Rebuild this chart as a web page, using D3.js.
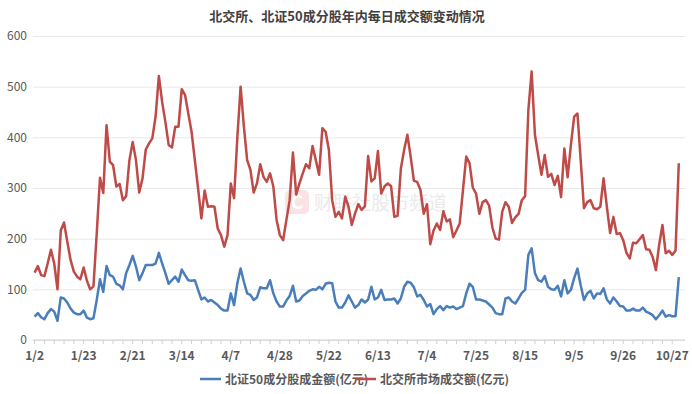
<!DOCTYPE html>
<html>
<head>
	<meta charset="utf-8">
	<script src="https://cdn.jsdelivr.net/npm/d3@7/dist/d3.min.js"></script>
	<style>
		html, body {
			padding: 0;
			margin: 0;
			background: #fff;
		}
		text {
			font-family: "Noto Sans CJK SC", "Noto Sans", sans-serif;
		}
	</style>
</head>
<body>
	<script>
		var width = 692, height = 394;

		// x tick labels, one every 15 trading days
		var tickLabels = ['1/2', '1/23', '2/21', '3/14', '4/7', '4/28', '5/22',
			'6/13', '7/4', '7/25', '8/15', '9/5', '9/26', '10/27'];
		var tickStep = 15;

		// 北证50成分股成金额 (亿元), one value per trading day
		var bz50 = [46, 53, 45, 41, 53, 61, 56, 38, 84, 82, 74, 62, 54, 51, 51, 58, 44, 41, 43, 79,
			120, 95, 146, 128, 125, 111, 108, 100, 132, 148, 166, 145, 118, 132, 148, 148, 148, 151, 172, 151,
			132, 111, 118, 125, 115, 139, 128, 118, 117, 118, 99, 80, 84, 76, 79, 74, 69, 62, 58, 58,
			92, 69, 112, 141, 115, 92, 89, 79, 84, 104, 102, 102, 118, 92, 76, 66, 66, 78, 87, 107,
			76, 78, 87, 92, 97, 100, 99, 105, 100, 111, 113, 112, 76, 64, 64, 74, 88, 76, 64, 69,
			80, 74, 80, 105, 80, 84, 99, 79, 80, 80, 82, 72, 82, 105, 115, 113, 104, 86, 89, 79,
			66, 71, 51, 61, 67, 59, 67, 64, 66, 61, 64, 67, 92, 111, 105, 80, 80, 78, 76, 70,
			64, 53, 51, 51, 82, 84, 76, 72, 82, 93, 99, 168, 181, 132, 118, 115, 126, 105, 100, 99,
			107, 86, 118, 92, 99, 122, 141, 108, 79, 92, 97, 82, 92, 91, 102, 80, 72, 84, 76, 67,
			66, 58, 58, 62, 58, 58, 64, 56, 53, 49, 41, 49, 58, 46, 49, 47, 47, 124];

		// 北交所市场成交额 (亿元)
		var bjse = [133, 146, 128, 126, 151, 178, 151, 100, 216, 232, 194, 158, 135, 125, 120, 143, 117, 100, 106, 210,
			320, 290, 424, 352, 345, 303, 308, 276, 284, 355, 391, 355, 291, 319, 376, 388, 398, 441, 521, 470,
			430, 385, 380, 421, 421, 495, 484, 447, 411, 355, 299, 240, 295, 263, 264, 263, 220, 207, 184, 207,
			309, 280, 400, 500, 421, 355, 336, 291, 309, 347, 322, 312, 329, 303, 237, 207, 197, 237, 276, 370,
			287, 309, 329, 347, 339, 383, 355, 326, 418, 411, 375, 276, 243, 253, 240, 283, 263, 227, 250, 268,
			257, 264, 363, 313, 319, 373, 289, 303, 309, 304, 243, 245, 338, 375, 405, 362, 314, 312, 296, 249,
			268, 189, 216, 230, 217, 254, 234, 238, 203, 216, 230, 296, 362, 349, 301, 289, 249, 272, 276, 265,
			222, 200, 198, 253, 272, 263, 231, 242, 249, 276, 284, 454, 530, 405, 365, 326, 365, 322, 328, 306,
			324, 282, 378, 321, 385, 441, 447, 355, 260, 272, 276, 260, 258, 263, 319, 263, 211, 243, 209, 211,
			197, 172, 161, 192, 191, 199, 207, 179, 178, 164, 138, 188, 227, 171, 176, 168, 176, 349];

		var days = d3.range(bjse.length);

		var seriesNames = ['北证50成分股成金额(亿元)', '北交所市场成交额(亿元)'];
		var seriesColors = ['#4a7ebb', '#be4b48'];

		var svg = d3.select('body').append('svg')
			.attr('width', width)
			.attr('height', height);

		var x = d3.scaleLinear().domain([0, days.length - 1]).range([34.6, 678.8]);
		var y = d3.scaleLinear().domain([0, 600]).range([340, 36]);

		// title
		svg.append('text')
			.attr('x', 347)
			.attr('y', 21)
			.attr('text-anchor', 'middle')
			.style('font-size', '13px')
			.style('font-weight', 'bold')
			.style('fill', '#404040')
			.text('北交所、北证50成分股年内每日成交额变动情况');

		// gridlines + y labels
		var yAxis = svg.append('g')
			.attr('transform', 'translate(33,0)')
			.call(d3.axisLeft(y).tickValues(d3.range(0, 601, 100)).tickSize(-652).tickPadding(6));
		yAxis.select('.domain').remove();
		yAxis.selectAll('line').attr('stroke', '#e8e8e8');
		yAxis.selectAll('text')
			.style('font-size', '12px')
			.style('fill', '#595959');

		// watermark
		var wm = svg.append('g').attr('opacity', 0.5);
		wm.append('rect')
			.attr('x', 285).attr('y', 190)
			.attr('width', 24).attr('height', 24)
			.attr('rx', 5)
			.attr('fill', '#f6c9cc');
		wm.append('text')
			.attr('x', 297).attr('y', 209)
			.attr('text-anchor', 'middle')
			.style('font-size', '19px')
			.style('font-weight', 'bold')
			.style('fill', '#fff')
			.text('C');
		wm.append('text')
			.attr('x', 314).attr('y', 210)
			.style('font-size', '19px')
			.style('fill', '#d6d6d6')
			.text('财联社股市频道');

		// x axis
		var xAxisG = svg.append('g').attr('transform', 'translate(0,340)');
		xAxisG.append('line')
			.attr('x1', 33).attr('x2', 685)
			.attr('stroke', '#d0d0d0');
		xAxisG.selectAll('.minor')
			.data(days.filter(function(d) { return d % 3 === 0; }))
			.enter().append('line')
			.attr('x1', function(d) { return x(d); })
			.attr('x2', function(d) { return x(d); })
			.attr('y1', 0).attr('y2', 4)
			.attr('stroke', '#d0d0d0');
		xAxisG.selectAll('.lbl')
			.data(tickLabels)
			.enter().append('text')
			.attr('x', function(d, i) { return x(i * tickStep); })
			.attr('y', 20)
			.attr('text-anchor', 'middle')
			.style('font-size', '12px')
			.style('font-weight', 'bold')
			.style('fill', '#595959')
			.text(function(d) { return d; });

		// lines
		var line = d3.line()
			.x(function(d, i) { return x(i); })
			.y(function(d) { return y(d); });

		[bz50, bjse].forEach(function(s, k) {
			svg.append('path')
				.datum(s)
				.attr('d', line)
				.attr('fill', 'none')
				.attr('stroke', seriesColors[k])
				.attr('stroke-width', 2.5)
				.attr('stroke-linejoin', 'round');
		});

		// legend
		var legX = [200, 355];
		seriesNames.forEach(function(name, k) {
			var g = svg.append('g').attr('transform', 'translate(' + legX[k] + ',379)');
			g.append('line')
				.attr('x1', 0).attr('x2', 21)
				.attr('stroke', seriesColors[k])
				.attr('stroke-width', 2.5);
			g.append('text')
				.attr('x', 25).attr('y', 4.5)
				.style('font-size', '12px')
				.style('font-weight', 'bold')
				.style('fill', '#595959')
				.text(name);
		});
	</script>
</body>
</html>
